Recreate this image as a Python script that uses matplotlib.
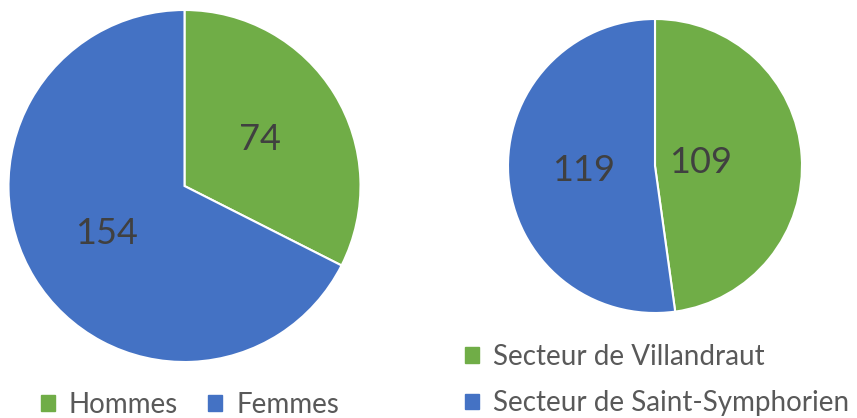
import numpy as np
import matplotlib.pyplot as plt
from matplotlib.patches import Patch

plt.rcParams['font.family'] = ['Lato', 'DejaVu Sans']

# data
sex_labels = ['Hommes', 'Femmes']
sex_values = [74, 154]
sector_labels = ['Secteur de Villandraut', 'Secteur de Saint-Symphorien']
sector_values = [109, 119]

green = '#70AD47'
blue = '#4472C4'
txt = '#404040'

W, H = 857, 418
fig = plt.figure(figsize=(W / 100, H / 100), dpi=100)


def add_ax(cx, cy, r):
    # pixel box -> figure fraction
    return fig.add_axes([(cx - r) / W, (H - cy - r) / H, 2 * r / W, 2 * r / H])


def draw_pie(ax, values, dists):
    wedges, _ = ax.pie(values, colors=[green, blue], startangle=90, counterclock=False,
                       wedgeprops=dict(edgecolor='white', linewidth=1.5), radius=1)
    total = sum(values)
    start = 90
    for v, d in zip(values, dists):
        span = v / total * 360
        mid = np.deg2rad(start - span / 2)
        ax.text(d * np.cos(mid), d * np.sin(mid), str(v), ha='center', va='center',
                fontsize=26, color=txt)
        start -= span
    ax.set_xlim(-1, 1)
    ax.set_ylim(-1, 1)
    ax.set_aspect('equal')
    ax.axis('off')
    return wedges


ax1 = add_ax(184.5, 186, 176)
draw_pie(ax1, sex_values, [0.5, 0.52])

ax2 = add_ax(655, 166, 147)
draw_pie(ax2, sector_values, [0.31, 0.49])

handles1 = [Patch(color=green), Patch(color=blue)]
fig.legend(handles1, sex_labels, loc='center', bbox_to_anchor=(190 / W, 1 - 405 / H),
           ncol=2, frameon=False, fontsize=20, labelcolor='#595959',
           borderpad=0, borderaxespad=0,
           handlelength=0.5, handleheight=0.5, handletextpad=0.5, columnspacing=1.1)

fig.legend(handles1, sector_labels, loc='center left', bbox_to_anchor=(465 / W, 1 - 380 / H),
           ncol=1, frameon=False, fontsize=20, labelcolor='#595959',
           borderpad=0, borderaxespad=0,
           handlelength=0.5, handleheight=0.5, handletextpad=0.5, labelspacing=0.75)

fig.savefig('out.png', dpi=100)
